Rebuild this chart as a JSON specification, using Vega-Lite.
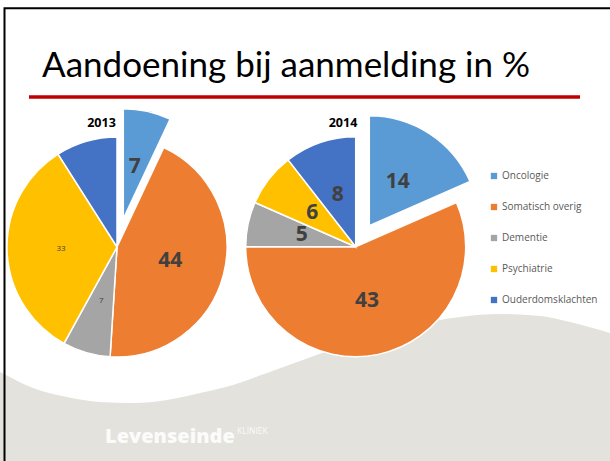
{
  "$schema": "https://vega.github.io/schema/vega-lite/v6.json",
  "width": 610,
  "height": 461,
  "autosize": {"type": "fit", "contains": "padding"},
  "padding": 0,
  "background": "white",
  "config": {"view": {"stroke": null}, "axis": {"disable": true}},
  "datasets": {
    "d2013": [
      {"category": "Oncologie", "value": 7, "k": 1},
      {"category": "Somatisch overig", "value": 44, "k": 2},
      {"category": "Dementie", "value": 7, "k": 3},
      {"category": "Psychiatrie", "value": 33, "k": 4},
      {"category": "Ouderdomsklachten", "value": 9, "k": 5}
    ],
    "d2014": [
      {"category": "Oncologie", "value": 14, "k": 1},
      {"category": "Somatisch overig", "value": 43, "k": 2},
      {"category": "Dementie", "value": 5, "k": 3},
      {"category": "Psychiatrie", "value": 6, "k": 4},
      {"category": "Ouderdomsklachten", "value": 8, "k": 5}
    ],
    "wave": [
      {"px": 0, "py": 372}, {"px": 4, "py": 374}, {"px": 33, "py": 388}, {"px": 67, "py": 397},
      {"px": 100, "py": 402}, {"px": 133, "py": 403}, {"px": 167, "py": 400}, {"px": 200, "py": 393},
      {"px": 233, "py": 385}, {"px": 267, "py": 373}, {"px": 300, "py": 361}, {"px": 340, "py": 347},
      {"px": 380, "py": 335}, {"px": 420, "py": 324}, {"px": 460, "py": 317}, {"px": 500, "py": 314},
      {"px": 540, "py": 316}, {"px": 570, "py": 322}, {"px": 610, "py": 333}
    ]
  },
  "resolve": {"scale": {"theta": "independent"}},
  "layer": [
    {
      "data": {"name": "wave"},
      "mark": {"type": "area", "interpolate": "monotone", "color": "#E3E2DD", "clip": true},
      "encoding": {
        "x": {"field": "px", "type": "quantitative", "scale": {"domain": [0, 610], "nice": false, "zero": false}},
        "y": {"field": "py", "type": "quantitative", "scale": {"domain": [0, 461], "nice": false, "zero": false, "reverse": true}},
        "y2": {"datum": 461}
      }
    },
    {
      "data": {"values": [{}]},
      "mark": {"type": "rect", "fill": null, "fillOpacity": 0, "stroke": "black", "strokeWidth": 2, "clip": true},
      "encoding": {
        "x": {"datum": 4.5, "type": "quantitative", "scale": {"domain": [0, 610], "nice": false, "zero": false}},
        "x2": {"datum": 640},
        "y": {"datum": 8.3, "type": "quantitative", "scale": {"domain": [0, 461], "nice": false, "zero": false, "reverse": true}},
        "y2": {"datum": 480}
      }
    },
    {
      "data": {"values": [{}]},
      "mark": {"type": "text", "text": "Aandoening bij aanmelding in %", "font": "Lato", "fontSize": 35, "color": "#000000", "align": "left", "baseline": "alphabetic"},
      "encoding": {
        "x": {"datum": 42, "type": "quantitative", "scale": {"domain": [0, 610], "nice": false, "zero": false}},
        "y": {"datum": 77, "type": "quantitative", "scale": {"domain": [0, 461], "nice": false, "zero": false, "reverse": true}}
      }
    },
    {
      "data": {"values": [{}]},
      "mark": {"type": "rule", "color": "#C00000", "strokeWidth": 3.5},
      "encoding": {
        "x": {"datum": 29, "type": "quantitative", "scale": {"domain": [0, 610], "nice": false, "zero": false}},
        "x2": {"datum": 580},
        "y": {"datum": 97, "type": "quantitative", "scale": {"domain": [0, 461], "nice": false, "zero": false, "reverse": true}}
      }
    },
    {
      "data": {"values": [{}]},
      "mark": {"type": "text", "text": "Levenseinde", "font": "Open Sans", "fontWeight": 800, "fontSize": 20, "color": "#FBFBFA", "align": "left", "baseline": "alphabetic"},
      "encoding": {
        "x": {"datum": 105, "type": "quantitative", "scale": {"domain": [0, 610], "nice": false, "zero": false}},
        "y": {"datum": 443, "type": "quantitative", "scale": {"domain": [0, 461], "nice": false, "zero": false, "reverse": true}}
      }
    },
    {
      "data": {"values": [{}]},
      "mark": {"type": "text", "text": "KLINIEK", "font": "Open Sans", "fontSize": 8.5, "color": "#FBFBFA", "align": "left", "baseline": "alphabetic"},
      "encoding": {
        "x": {"datum": 237, "type": "quantitative", "scale": {"domain": [0, 610], "nice": false, "zero": false}},
        "y": {"datum": 434, "type": "quantitative", "scale": {"domain": [0, 461], "nice": false, "zero": false, "reverse": true}}
      }
    },
    {
      "data": {"values": [{}]},
      "mark": {"type": "text", "text": "2013", "font": "Open Sans", "fontWeight": "bold", "fontSize": 12.5, "color": "#000000", "align": "center", "baseline": "alphabetic"},
      "encoding": {
        "x": {"datum": 101.5, "type": "quantitative", "scale": {"domain": [0, 610], "nice": false, "zero": false}},
        "y": {"datum": 127, "type": "quantitative", "scale": {"domain": [0, 461], "nice": false, "zero": false, "reverse": true}}
      }
    },
    {
      "data": {"values": [{}]},
      "mark": {"type": "text", "text": "2014", "font": "Open Sans", "fontWeight": "bold", "fontSize": 12.5, "color": "#000000", "align": "center", "baseline": "alphabetic"},
      "encoding": {
        "x": {"datum": 343, "type": "quantitative", "scale": {"domain": [0, 610], "nice": false, "zero": false}},
        "y": {"datum": 127, "type": "quantitative", "scale": {"domain": [0, 461], "nice": false, "zero": false, "reverse": true}}
      }
    },
    {
      "data": {"name": "d2013"},
      "mark": {"type": "arc", "radius": 110, "stroke": "white", "strokeWidth": 1.5},
      "encoding": {
        "x": {"datum": 117, "type": "quantitative", "scale": {"domain": [0, 610], "nice": false, "zero": false}},
        "y": {"datum": 247, "type": "quantitative", "scale": {"domain": [0, 461], "nice": false, "zero": false, "reverse": true}},
        "theta": {"field": "value", "type": "quantitative", "stack": true},
        "order": {"field": "k", "type": "quantitative"},
        "color": {"field": "category", "type": "nominal", "scale": {"domain": ["Oncologie", "Somatisch overig", "Dementie", "Psychiatrie", "Ouderdomsklachten"], "range": ["#5B9BD5", "#ED7D31", "#A5A5A5", "#FFC000", "#4472C4"]}, "legend": {"orient": "none", "legendX": 489, "legendY": 171, "title": null, "symbolType": "square", "symbolSize": 40, "symbolStrokeWidth": 0, "labelFont": "Open Sans", "labelFontSize": 10, "labelColor": "#595959", "rowPadding": 21, "labelOffset": 3}},
        "opacity": {"condition": {"test": "datum.category === 'Oncologie'", "value": 0}, "value": 1}
      }
    },
    {
      "data": {"name": "d2013"},
      "mark": {"type": "arc", "radius": 110, "stroke": "white", "strokeWidth": 1.5},
      "encoding": {
        "x": {"datum": 123.3, "type": "quantitative", "scale": {"domain": [0, 610], "nice": false, "zero": false}},
        "y": {"datum": 218.7, "type": "quantitative", "scale": {"domain": [0, 461], "nice": false, "zero": false, "reverse": true}},
        "theta": {"field": "value", "type": "quantitative", "stack": true},
        "order": {"field": "k", "type": "quantitative"},
        "color": {"field": "category", "type": "nominal", "scale": {"domain": ["Oncologie", "Somatisch overig", "Dementie", "Psychiatrie", "Ouderdomsklachten"], "range": ["#5B9BD5", "#ED7D31", "#A5A5A5", "#FFC000", "#4472C4"]}, "legend": {"orient": "none", "legendX": 489, "legendY": 171, "title": null, "symbolType": "square", "symbolSize": 40, "symbolStrokeWidth": 0, "labelFont": "Open Sans", "labelFontSize": 10, "labelColor": "#595959", "rowPadding": 21, "labelOffset": 3}},
        "opacity": {"condition": {"test": "datum.category === 'Oncologie'", "value": 1}, "value": 0}
      }
    },
    {
      "data": {"name": "d2013"},
      "mark": {"type": "text", "radius": 55, "font": "Open Sans", "fontWeight": "bold", "fontSize": 21, "color": "#404040", "align": "center", "baseline": "middle"},
      "encoding": {
        "x": {"datum": 117, "type": "quantitative", "scale": {"domain": [0, 610], "nice": false, "zero": false}},
        "y": {"datum": 247, "type": "quantitative", "scale": {"domain": [0, 461], "nice": false, "zero": false, "reverse": true}},
        "theta": {"field": "value", "type": "quantitative", "stack": true},
        "order": {"field": "k", "type": "quantitative"},
        "text": {"field": "value", "type": "quantitative", "condition": {"test": "datum.category !== 'Somatisch overig'", "value": ""}}
      }
    },
    {
      "data": {"name": "d2013"},
      "mark": {"type": "text", "radius": 53, "font": "Open Sans", "fontWeight": "bold", "fontSize": 21, "color": "#404040", "align": "center", "baseline": "middle"},
      "encoding": {
        "x": {"datum": 123.3, "type": "quantitative", "scale": {"domain": [0, 610], "nice": false, "zero": false}},
        "y": {"datum": 218.7, "type": "quantitative", "scale": {"domain": [0, 461], "nice": false, "zero": false, "reverse": true}},
        "theta": {"field": "value", "type": "quantitative", "stack": true},
        "order": {"field": "k", "type": "quantitative"},
        "text": {"field": "value", "type": "quantitative", "condition": {"test": "datum.category !== 'Oncologie'", "value": ""}}
      }
    },
    {
      "data": {"name": "d2013"},
      "mark": {"type": "text", "radius": 56, "font": "Open Sans", "fontSize": 8, "color": "#404040", "align": "center", "baseline": "middle"},
      "encoding": {
        "x": {"datum": 117, "type": "quantitative", "scale": {"domain": [0, 610], "nice": false, "zero": false}},
        "y": {"datum": 247, "type": "quantitative", "scale": {"domain": [0, 461], "nice": false, "zero": false, "reverse": true}},
        "theta": {"field": "value", "type": "quantitative", "stack": true},
        "order": {"field": "k", "type": "quantitative"},
        "text": {"field": "value", "type": "quantitative", "condition": {"test": "datum.category !== 'Dementie' && datum.category !== 'Psychiatrie'", "value": ""}}
      }
    },
    {
      "data": {"name": "d2014"},
      "mark": {"type": "arc", "radius": 110, "stroke": "white", "strokeWidth": 1.5},
      "encoding": {
        "x": {"datum": 355.7, "type": "quantitative", "scale": {"domain": [0, 610], "nice": false, "zero": false}},
        "y": {"datum": 246.7, "type": "quantitative", "scale": {"domain": [0, 461], "nice": false, "zero": false, "reverse": true}},
        "theta": {"field": "value", "type": "quantitative", "stack": true},
        "order": {"field": "k", "type": "quantitative"},
        "color": {"field": "category", "type": "nominal", "scale": {"domain": ["Oncologie", "Somatisch overig", "Dementie", "Psychiatrie", "Ouderdomsklachten"], "range": ["#5B9BD5", "#ED7D31", "#A5A5A5", "#FFC000", "#4472C4"]}, "legend": {"orient": "none", "legendX": 489, "legendY": 171, "title": null, "symbolType": "square", "symbolSize": 40, "symbolStrokeWidth": 0, "labelFont": "Open Sans", "labelFontSize": 10, "labelColor": "#595959", "rowPadding": 21, "labelOffset": 3}},
        "opacity": {"condition": {"test": "datum.category === 'Oncologie'", "value": 0}, "value": 1}
      }
    },
    {
      "data": {"name": "d2014"},
      "mark": {"type": "arc", "radius": 110, "stroke": "white", "strokeWidth": 1.5},
      "encoding": {
        "x": {"datum": 369.3, "type": "quantitative", "scale": {"domain": [0, 610], "nice": false, "zero": false}},
        "y": {"datum": 225.7, "type": "quantitative", "scale": {"domain": [0, 461], "nice": false, "zero": false, "reverse": true}},
        "theta": {"field": "value", "type": "quantitative", "stack": true},
        "order": {"field": "k", "type": "quantitative"},
        "color": {"field": "category", "type": "nominal", "scale": {"domain": ["Oncologie", "Somatisch overig", "Dementie", "Psychiatrie", "Ouderdomsklachten"], "range": ["#5B9BD5", "#ED7D31", "#A5A5A5", "#FFC000", "#4472C4"]}, "legend": {"orient": "none", "legendX": 489, "legendY": 171, "title": null, "symbolType": "square", "symbolSize": 40, "symbolStrokeWidth": 0, "labelFont": "Open Sans", "labelFontSize": 10, "labelColor": "#595959", "rowPadding": 21, "labelOffset": 3}},
        "opacity": {"condition": {"test": "datum.category === 'Oncologie'", "value": 1}, "value": 0}
      }
    },
    {
      "data": {"name": "d2014"},
      "mark": {"type": "text", "radius": 55, "font": "Open Sans", "fontWeight": "bold", "fontSize": 21, "color": "#404040", "align": "center", "baseline": "middle"},
      "encoding": {
        "x": {"datum": 355.7, "type": "quantitative", "scale": {"domain": [0, 610], "nice": false, "zero": false}},
        "y": {"datum": 246.7, "type": "quantitative", "scale": {"domain": [0, 461], "nice": false, "zero": false, "reverse": true}},
        "theta": {"field": "value", "type": "quantitative", "stack": true},
        "order": {"field": "k", "type": "quantitative"},
        "text": {"field": "value", "type": "quantitative", "condition": {"test": "datum.category === 'Oncologie'", "value": ""}}
      }
    },
    {
      "data": {"name": "d2014"},
      "mark": {"type": "text", "radius": 52, "font": "Open Sans", "fontWeight": "bold", "fontSize": 21, "color": "#404040", "align": "center", "baseline": "middle"},
      "encoding": {
        "x": {"datum": 369.3, "type": "quantitative", "scale": {"domain": [0, 610], "nice": false, "zero": false}},
        "y": {"datum": 225.7, "type": "quantitative", "scale": {"domain": [0, 461], "nice": false, "zero": false, "reverse": true}},
        "theta": {"field": "value", "type": "quantitative", "stack": true},
        "order": {"field": "k", "type": "quantitative"},
        "text": {"field": "value", "type": "quantitative", "condition": {"test": "datum.category !== 'Oncologie'", "value": ""}}
      }
    }
  ]
}
